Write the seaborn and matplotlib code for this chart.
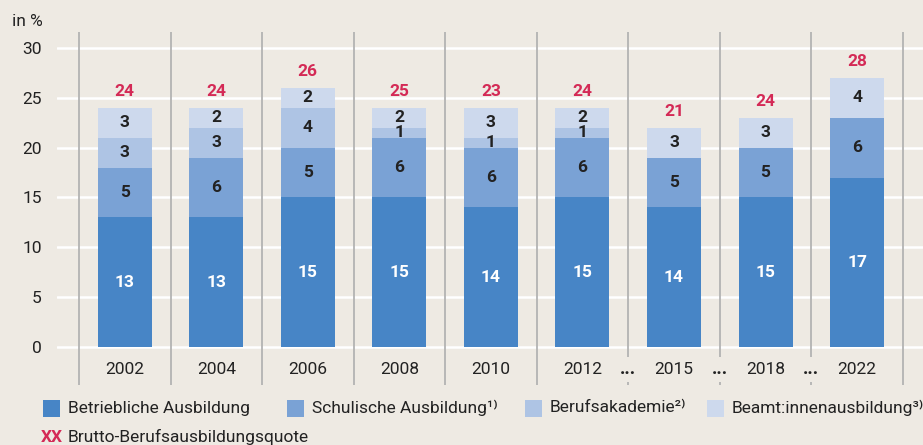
"""
plot.py – Brutto-Berufsausbildungsquote, stacked bars by Ausbildungsart.
"""

import pandas as pd
import numpy as np
import matplotlib
matplotlib.use("Agg")
import matplotlib.pyplot as plt
import matplotlib.patches as mpatches
import seaborn as sns

# ── Data ──────────────────────────────────────────────────────────────────────
YEARS    = ["2002", "2004", "2006", "2008", "2010", "2012", "2015", "2018", "2022"]
BETRIEB  = [13, 13, 15, 15, 14, 15, 14, 15, 17]
SCHUL    = [5, 6, 5, 6, 6, 6, 5, 5, 6]
AKADEMIE = [3, 3, 4, 1, 1, 1, 0, 0, 0]
BEAMT    = [3, 2, 2, 2, 3, 2, 3, 3, 4]
QUOTE    = [24, 24, 26, 25, 23, 24, 21, 24, 28]
GAPS_AFTER = ["2012", "2015", "2018"]   # "..." marks a jump in years
LEGEND_LABELS = ["Betriebliche Ausbildung", "Schulische Ausbildung¹⁾",
                 "Berufsakademie²⁾", "Beamt:innenausbildung³⁾"]

# ── Palette ───────────────────────────────────────────────────────────────────
BG     = "#eeeae3"
COLORS = ["#4785c6", "#7aa2d5", "#aec4e4", "#cdd9ed"]
RED    = "#d42a56"
SEP    = "#b3b3b3"
TXT    = "#222222"

sns.set_theme(style="white")
plt.rcParams["font.family"] = ["Roboto", "DejaVu Sans"]
plt.rcParams["text.color"] = TXT

df = pd.DataFrame({"year": YEARS, "betrieb": BETRIEB, "schul": SCHUL,
                   "akademie": AKADEMIE, "beamt": BEAMT, "quote": QUOTE})
df["c1"] = df["betrieb"]
df["c2"] = df["c1"] + df["schul"]
df["c3"] = df["c2"] + df["akademie"]
df["c4"] = df["c3"] + df["beamt"]

fig = plt.figure(figsize=(9.23, 4.45), dpi=100, facecolor=BG)
ax = fig.add_axes([57 / 923, 60 / 445, 1 - 57 / 923, 353 / 445])
ax.set_facecolor(BG)

# stacked bars: draw cumulative heights from top layer down
for col, color in zip(["c4", "c3", "c2", "c1"], COLORS[::-1]):
    sns.barplot(data=df, x="year", y=col, color=color, saturation=1,
                width=0.59, linewidth=0, ax=ax, zorder=3)

YMIN, YMAX = -3.81, 31.6
ax.set_ylim(YMIN, YMAX)
ax.set_xlim(-0.74, 8.72)
ax.set_yticks(range(0, 31, 5))
ax.yaxis.grid(True, color="white", linewidth=1.8, zorder=0)
ax.xaxis.grid(False)
ax.tick_params(axis="y", length=0, pad=11, labelsize=12.5, labelcolor=TXT)
ax.set_xticks([])
ax.set_xlabel("")
ax.set_ylabel("")
for s in ax.spines.values():
    s.set_visible(False)

# separators between year groups
n = len(YEARS)
for i in range(n + 1):
    ax.axvline(i - 0.5, color=SEP, linewidth=1.3, zorder=1)

# segment labels and totals
layers = [("betrieb", "c1"), ("schul", "c2"), ("akademie", "c3"), ("beamt", "c4")]
for i, row in df.iterrows():
    for k, (seg, cum) in enumerate(layers):
        v = row[seg]
        if v <= 0:
            continue
        ax.text(i, row[cum] - v / 2, f"{v}", ha="center", va="center",
                fontsize=12.5, fontweight="bold",
                color="white" if k == 0 else TXT, zorder=5)
    ax.text(i, row["c4"] + 1.6, f"{row['quote']}", ha="center", va="center",
            fontsize=12.5, fontweight="bold", color=RED, zorder=5)
    ax.text(i, -2.72, row["year"], ha="center", va="baseline", fontsize=12.5,
            color=TXT, zorder=5)
    if row["year"] in GAPS_AFTER:
        ax.text(i + 0.5, -2.72, "...", ha="center", va="baseline",
                fontsize=13.5, fontweight="bold", color=TXT, zorder=6,
                bbox=dict(facecolor=BG, edgecolor="none", pad=2.5))

fig.text(12 / 923, 1 - 22 / 445, "in %", ha="left", va="center", fontsize=12.5)

# legend, row 1
leg_x = [43, 287, 525, 707]
y1 = 408
for x0, c, lab in zip(leg_x, COLORS, LEGEND_LABELS):
    fig.add_artist(mpatches.Rectangle((x0 / 923, (445 - y1 - 8.5) / 445),
                                      17 / 923, 17 / 445, facecolor=c,
                                      edgecolor="none",
                                      transform=fig.transFigure))
    fig.text((x0 + 25) / 923, (445 - y1) / 445, lab, ha="left", va="center",
             fontsize=12.5)

# legend, row 2
y2 = 437
fig.text(41 / 923, (445 - y2) / 445, "XX", ha="left", va="center",
         fontsize=12.5, fontweight="bold", color=RED)
fig.text(68 / 923, (445 - y2) / 445, "Brutto-Berufsausbildungsquote",
         ha="left", va="center", fontsize=12.5)

fig.savefig("out.png", dpi=100, facecolor=BG)
plt.close()
